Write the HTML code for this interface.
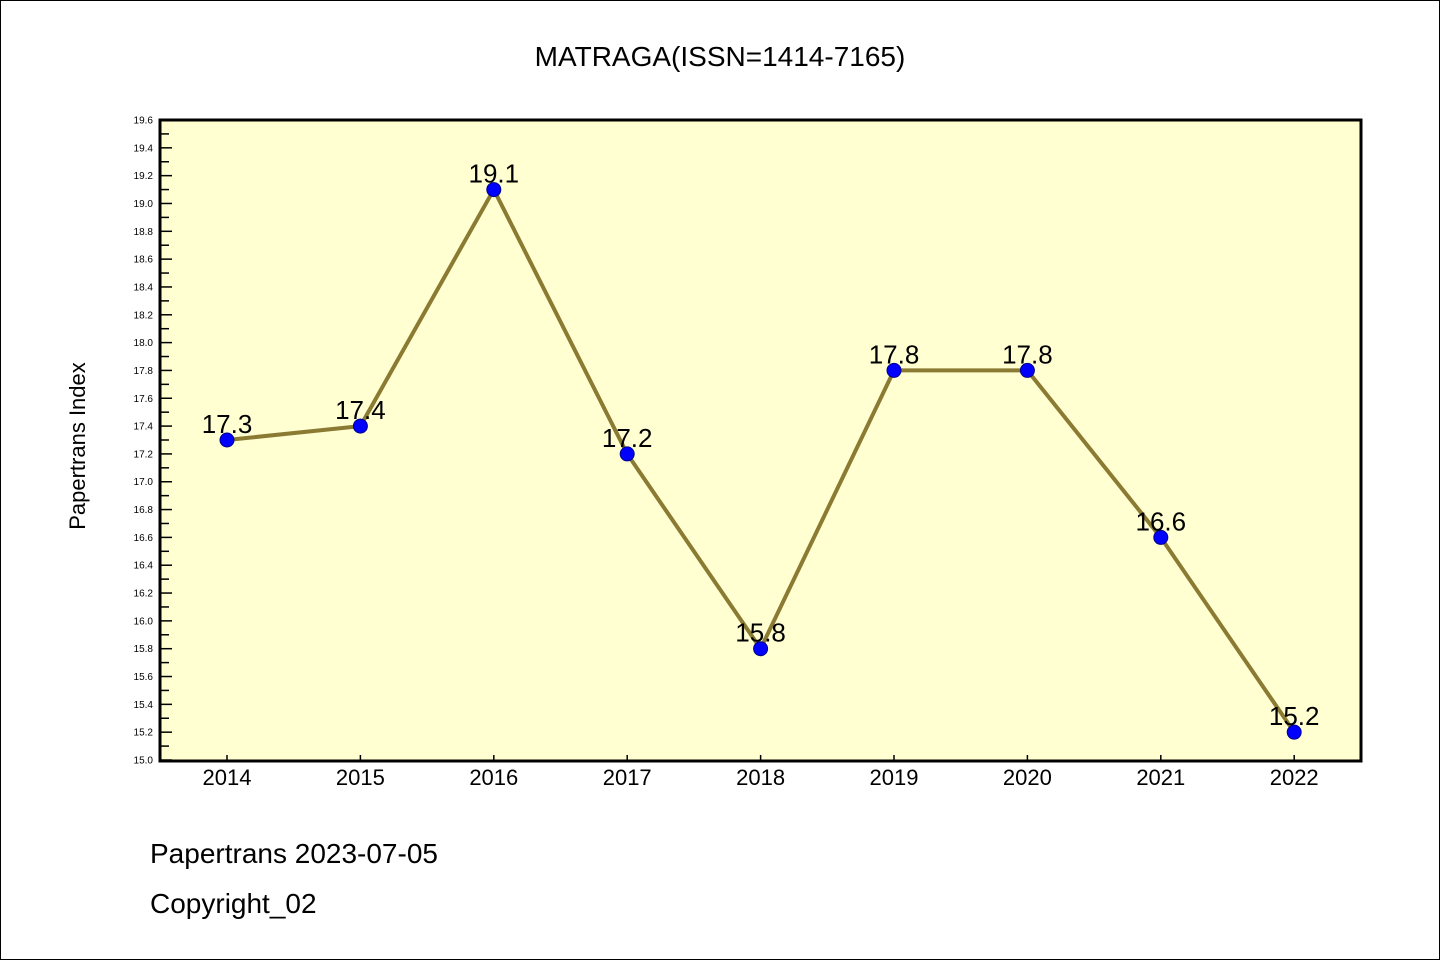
<!DOCTYPE html>
<html><head><meta charset="utf-8"><style>
body{margin:0;background:#fff}
svg text{font-family:"WenQuanYi Zen Hei","Liberation Sans",sans-serif}
</style></head><body>
<svg width="1440" height="960" xmlns="http://www.w3.org/2000/svg">
<rect x="0.5" y="0.5" width="1439" height="959" fill="#fff" stroke="#000"/>
<text x="720" y="66" font-size="28" text-anchor="middle">MATRAGA(ISSN=1414-7165)</text>
<rect x="160" y="120" width="1201" height="641" fill="#ffffd2"/>
<g id="yt"></g>
<g id="xt"></g>
<g id="series"></g>
<rect x="160" y="120" width="1201" height="641" fill="none" stroke="#000" stroke-width="3"/>
<text x="85" y="446" font-size="22" text-anchor="middle" transform="rotate(-90 85 446)">Papertrans Index</text>
<text x="150" y="863" font-size="28">Papertrans 2023-07-05</text>
<text x="150" y="913" font-size="28">Copyright_02</text>
</svg>
<script>
const years=["2014","2015","2016","2017","2018","2019","2020","2021","2022"];
const values=[17.3,17.4,19.1,17.2,15.8,17.8,17.8,16.6,15.2];
const labels=["17.3","17.4","19.1","17.2","15.8","17.8","17.8","16.6","15.2"];
const yMin=15.0,yMax=19.6;
const NS="http://www.w3.org/2000/svg";
function y(v){return 760-(v-yMin)/(yMax-yMin)*640;}
function x(i){return 227+i*133.4;}
function mk(t,a,p,txt){const e=document.createElementNS(NS,t);for(const k in a)e.setAttribute(k,a[k]);if(txt!==undefined)e.textContent=txt;p.appendChild(e);return e;}
const yt=document.getElementById('yt'),xt=document.getElementById('xt'),s=document.getElementById('series');
for(let k=0;k<=46;k++){const v=yMin+k*0.1,yy=y(v),major=k%2===0;
 const l=mk('line',{x1:160,x2:major?172:169,y1:yy,y2:yy,stroke:'#000','stroke-width':1.5},yt);
 
 if(major){const t=mk('text',{x:153,y:yy+3.5,'font-size':10,'text-anchor':'end'},yt,v.toFixed(1));
 }}
years.forEach((yr,i)=>{const l=mk('line',{x1:x(i),x2:x(i),y1:760,y2:755,stroke:'#000','stroke-width':1.5},xt);
 
 const t=mk('text',{x:x(i),y:785,'font-size':22,'text-anchor':'middle'},xt,yr);
 });
const pl=mk('polyline',{points:values.map((v,i)=>x(i)+','+y(v)).join(' '),fill:'none',stroke:'#8b7a32','stroke-width':4},s);

values.forEach((v,i)=>{const c=mk('circle',{cx:x(i),cy:y(v),r:7,fill:'#0000ff',stroke:'#00008b','stroke-width':1},s);
 
 const t=mk('text',{x:x(i),y:y(v)-7,'font-size':26,'text-anchor':'middle'},s,labels[i]);
 });
</script>
</body></html>
